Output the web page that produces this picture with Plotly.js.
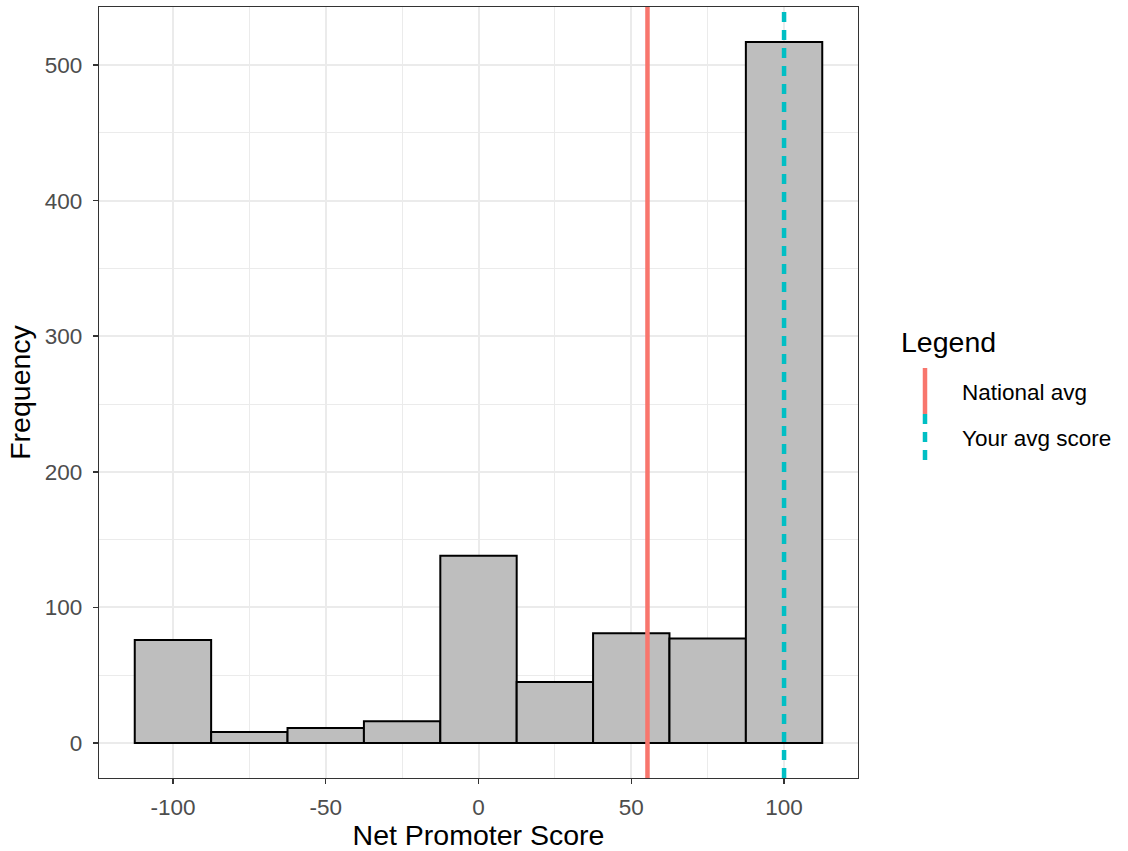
<!DOCTYPE html>
<html>
<head>
<meta charset="utf-8">
<script src="https://cdn.plot.ly/plotly-3.0.1.min.js"></script>
<style>html,body{margin:0;padding:0;background:#fff;}#chart{width:1128px;height:851px;}</style>
</head>
<body>
<div id="chart"></div>
<script>
// ---- data ----
const binCenters = [-100, -75, -50, -25, 0, 25, 50, 75, 100];
const frequencies = [76, 8, 11, 16, 138, 45, 81, 77, 517];
const binWidth = 25;
const nationalAvg = 55.3;
const yourAvg = 100;
const legendLabels = ["National avg", "Your avg score"];
const xTickVals = [-100, -50, 0, 50, 100];
const yTickVals = [0, 100, 200, 300, 400, 500];

// ---- layout helpers (pixel geometry of the panel) ----
const W = 1128, H = 851;
const M = {l: 99, r: 270, t: 7, b: 73};
const pw = W - M.l - M.r, ph = H - M.t - M.b;
const px = x => (x - M.l) / pw;          // page x pixel -> paper
const py = y => (H - M.b - y) / ph;       // page y pixel -> paper

const red = '#F8766D', cyan = '#00BFC4';
const font = 'Liberation Sans, Arial, sans-serif';
const dashed = '10px,8px';

const traces = [{
  type: 'bar',
  x: binCenters,
  y: frequencies,
  width: binCenters.map(() => binWidth),
  marker: {color: '#BEBEBE', line: {color: '#000000', width: 2}},
  hoverinfo: 'x+y',
  showlegend: false
}];

const layout = {
  width: W, height: H,
  margin: M,
  paper_bgcolor: '#ffffff',
  plot_bgcolor: '#ffffff',
  showlegend: false,
  bargap: 0,
  font: {family: font, color: '#000000'},
  xaxis: {
    range: [-124.2, 124.2],
    tickvals: xTickVals,
    ticktext: xTickVals.map(String),
    ticks: 'outside', ticklen: 5, tickwidth: 1.5, tickcolor: '#333333',
    tickfont: {family: font, size: 22.5, color: '#4D4D4D'},
    ticklabelstandoff: 4,
    showgrid: true, gridcolor: '#EBEBEB', gridwidth: 2,
    minor: {dtick: 25, tick0: 0, showgrid: true, gridcolor: '#EBEBEB', gridwidth: 1, ticks: ''},
    zeroline: false,
    showline: true, linecolor: '#333333', linewidth: 1.3, mirror: true,
    title: {text: 'Net Promoter Score', font: {family: font, size: 28.5, color: '#000000'}, standoff: 6},
    automargin: false
  },
  yaxis: {
    range: [-25.85, 542.85],
    tickvals: yTickVals,
    ticktext: yTickVals.map(String),
    ticks: 'outside', ticklen: 5, tickwidth: 1.5, tickcolor: '#333333',
    tickfont: {family: font, size: 22.5, color: '#4D4D4D'},
    ticklabelstandoff: 6,
    showgrid: true, gridcolor: '#EBEBEB', gridwidth: 2,
    minor: {dtick: 50, tick0: 0, showgrid: true, gridcolor: '#EBEBEB', gridwidth: 1, ticks: ''},
    zeroline: false,
    showline: true, linecolor: '#333333', linewidth: 1.3, mirror: true,
    title: {text: 'Frequency', font: {family: font, size: 28.5, color: '#000000'}, standoff: 5},
    automargin: false
  },
  shapes: [
    {type: 'line', xref: 'x', yref: 'paper', x0: nationalAvg, x1: nationalAvg, y0: 0, y1: 1,
     line: {color: red, width: 4.5}, layer: 'above'},
    {type: 'line', xref: 'x', yref: 'paper', x0: yourAvg, x1: yourAvg, y0: 0, y1: 1,
     line: {color: cyan, width: 4.5, dash: dashed}, layer: 'above'},
    // legend keys
    {type: 'line', xref: 'paper', yref: 'paper', x0: px(925), x1: px(925), y0: py(368), y1: py(414),
     line: {color: red, width: 4.5}},
    {type: 'line', xref: 'paper', yref: 'paper', x0: px(925), x1: px(925), y0: py(414), y1: py(460),
     line: {color: cyan, width: 4.5, dash: dashed}}
  ],
  annotations: [
    {xref: 'paper', yref: 'paper', x: px(899), y: py(342), xanchor: 'left', yanchor: 'middle',
     text: 'Legend', showarrow: false, font: {family: font, size: 28.5, color: '#000000'}},
    {xref: 'paper', yref: 'paper', x: px(960), y: py(392), xanchor: 'left', yanchor: 'middle',
     text: legendLabels[0], showarrow: false, font: {family: font, size: 22.5, color: '#000000'}},
    {xref: 'paper', yref: 'paper', x: px(960), y: py(438), xanchor: 'left', yanchor: 'middle',
     text: legendLabels[1], showarrow: false, font: {family: font, size: 22.5, color: '#000000'}}
  ]
};

Plotly.newPlot('chart', traces, layout, {displayModeBar: false, staticPlot: true});
</script>
</body>
</html>
